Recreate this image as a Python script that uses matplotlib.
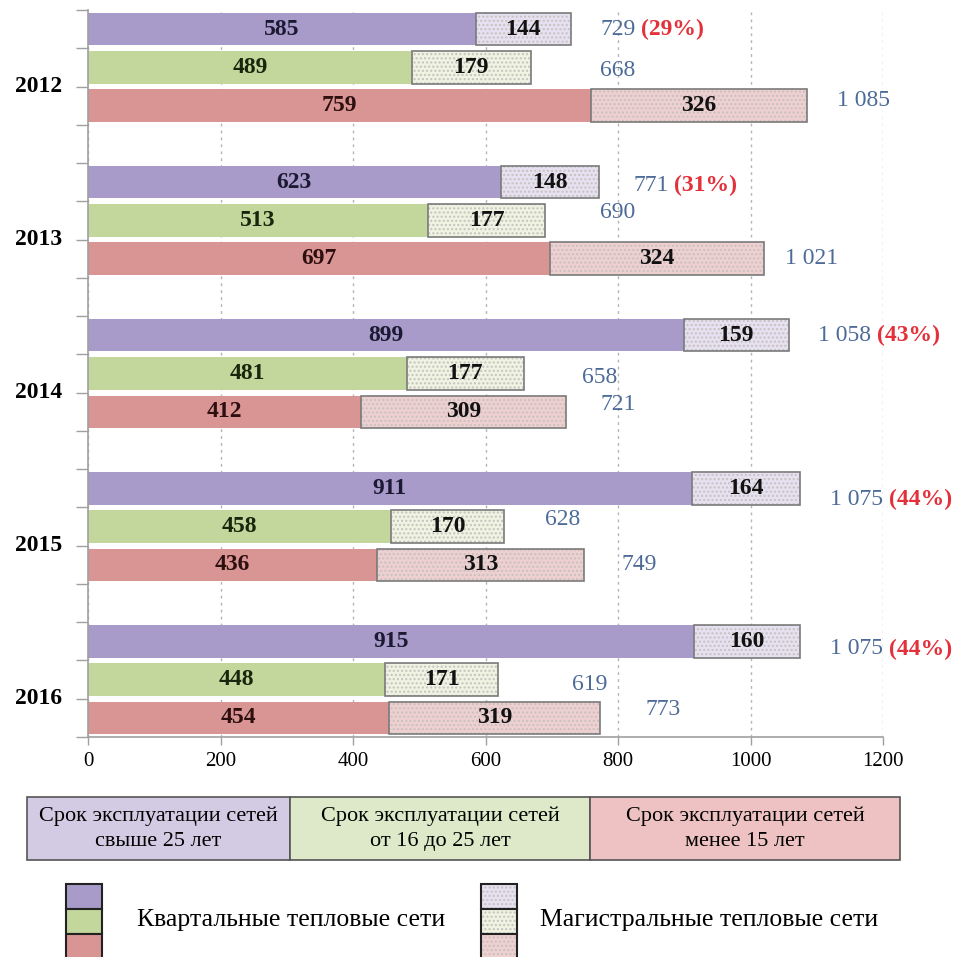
import numpy as np
import matplotlib
matplotlib.use("Agg")
import matplotlib.pyplot as plt
from matplotlib.patches import Rectangle

# --- DATA ---
years = ["2012", "2013", "2014", "2015", "2016"]
# kvartalnye (quarter) networks, by service age group
kv_over25 = [585, 623, 899, 911, 915]
kv_16_25 = [489, 513, 481, 458, 448]
kv_under15 = [759, 697, 412, 436, 454]
# magistralnye (trunk) networks
mag_over25 = [144, 148, 159, 164, 160]
mag_16_25 = [179, 177, 177, 170, 171]
mag_under15 = [326, 324, 309, 313, 319]
share_over25 = [29, 31, 43, 44, 44]  # % of total, shown for the >25 group

tick_values = [0, 200, 400, 600, 800, 1000, 1200]
group_labels = ["Срок эксплуатации сетей\nсвыше 25 лет",
                "Срок эксплуатации сетей\nот 16 до 25 лет",
                "Срок эксплуатации сетей\nменее 15 лет"]
legend_kv = "Квартальные тепловые сети"
legend_mag = "Магистральные тепловые сети"

# where the total labels sit (value axis x, slot offset dy) - hand placed in the original
total_x = [[773, 773, 1131], [823, 773, 1052], [1102, 746, 773],
           [1120, 690, 806], [1120, 730, 841]]
total_dy = [[0.0, 0.08, -0.13], [0.08, -0.22, 0.0], [0.0, 0.1, -0.18],
            [0.29, -0.18, 0.0], [0.2, 0.13, -0.23]]

# --- STYLE ---
plt.rcParams["font.family"] = ["Liberation Serif", "DejaVu Serif"]
dark = ["#a99bc9", "#c3d69b", "#d99594"]
light = ["#e6e1f0", "#eef4e1", "#efd0d0"]
inner_txt = ["#1c1a33", "#17260c", "#2e0f0f"]
blue = "#4d6b98"
red = "#e3303a"
cell_fill = ["#d3cbe4", "#dde9c8", "#eec2c2"]

W, H = 959, 957
fig = plt.figure(figsize=(W / 100, H / 100), dpi=100)
ax = fig.add_axes([88 / W, 1 - 737 / H, (883 - 88) / W, (737 - 10) / H])

kv = [kv_over25, kv_16_25, kv_under15]
mag = [mag_over25, mag_16_25, mag_under15]
bar_h = 0.85

for i, yr in enumerate(years):
    for j in range(3):
        y = 4 * i + j
        a = kv[j][i]
        b = mag[j][i]
        ax.barh(y, a, height=bar_h, color=dark[j], edgecolor="none", zorder=2)
        # light stippled part
        ax.barh(y, b, left=a, height=bar_h, color=light[j], edgecolor="#c8c0c0",
                hatch="....", linewidth=0, zorder=2)
        ax.barh(y, b, left=a, height=bar_h, fill=False, edgecolor="#7a7a7a",
                linewidth=1.2, zorder=3)
        ax.text(a / 2, y, str(a), ha="center", va="center", fontsize=17,
                fontweight="bold", color=inner_txt[j], zorder=4)
        ax.text(a + b / 2, y, str(b), ha="center", va="center", fontsize=17,
                fontweight="bold", color="#111111", zorder=4)
        total = a + b
        t = ax.text(total_x[i][j], y + total_dy[i][j], f"{total:,}".replace(",", " "),
                    ha="left", va="center", fontsize=17, color=blue, zorder=4)
        if j == 0:
            ax.annotate(f"({share_over25[i]}%)", xy=(1, 0.5), xycoords=t,
                        xytext=(4, 0), textcoords="offset points",
                        ha="left", va="center", fontsize=17, fontweight="bold",
                        color=red)

ax.set_ylim(18.5, -0.5)
ax.set_xlim(0, 1200)
ax.set_yticks(np.arange(-0.5, 19, 1))
ax.set_yticklabels([])
for i, yr in enumerate(years):
    ax.text(-0.033, 4 * i + 1.5, yr, transform=ax.get_yaxis_transform(),
            ha="right", va="center", fontsize=17, fontweight="bold")
ax.set_xticks(tick_values)
ax.set_xticklabels([str(v) for v in tick_values], fontsize=15)
ax.tick_params(axis="y", length=9, color="#a0a0a0", width=1)
ax.tick_params(axis="x", length=6, color="#a0a0a0", width=1, pad=5)
ax.xaxis.grid(True, linestyle=(0, (2, 3)), color="#b5b5b5", linewidth=1)
ax.set_axisbelow(True)
for s in ["top", "right"]:
    ax.spines[s].set_visible(False)
for s in ["left", "bottom"]:
    ax.spines[s].set_color("#a0a0a0")
    ax.spines[s].set_linewidth(1.2)

# --- LEGEND (drawn in pixel space) ---
lax = fig.add_axes([0, 0, 1, 1], zorder=-1)
lax.set_xlim(0, W)
lax.set_ylim(H, 0)
lax.axis("off")

cells = [(27, 290), (290, 590), (590, 900)]
for (x0, x1), fc, lab in zip(cells, cell_fill, group_labels):
    lax.add_patch(Rectangle((x0, 797), x1 - x0, 63, facecolor=fc,
                            edgecolor="#555555", linewidth=1.2))
    lax.text((x0 + x1) / 2, 829, lab, ha="center", va="center", fontsize=16,
             linespacing=1.45)

for x0, cols, hatch in [(66, dark, None), (481, light, "....")]:
    for k, c in enumerate(cols):
        lax.add_patch(Rectangle((x0, 884 + 25 * k), 36, 25, facecolor=c,
                                edgecolor="#c8c0c0" if hatch else "none",
                                hatch=hatch, linewidth=0))
        lax.add_patch(Rectangle((x0, 884 + 25 * k), 36, 25, fill=False,
                                edgecolor="#222222", linewidth=1.5))

lax.text(137, 920, legend_kv, ha="left", va="center", fontsize=18.5)
lax.text(540, 920, legend_mag, ha="left", va="center", fontsize=18.5)

fig.savefig("out.png", dpi=100)
